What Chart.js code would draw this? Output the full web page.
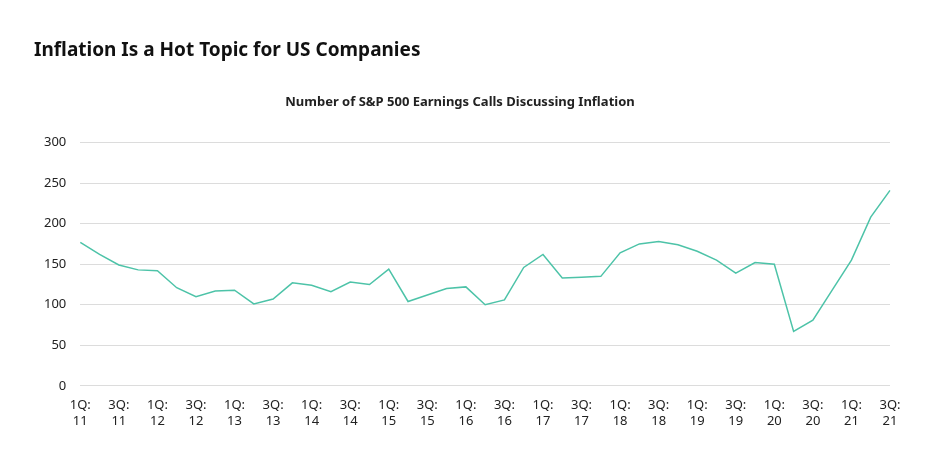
<!DOCTYPE html>
<html>
<head>
<meta charset="utf-8">
<script src="https://cdn.jsdelivr.net/npm/chart.js@4"></script>
<style>
  body { margin: 0; background: #fff; font-family: "Noto Sans", sans-serif; }
  #wrap { position: relative; width: 936px; height: 452px; }
  h1 { position: absolute; left: 34px; top: 36px; margin: 0; font-size: 19px; font-weight: bold; color: #111; }
  #box { position: absolute; left: 0; top: 0; width: 936px; height: 452px; }
</style>
</head>
<body>
<div id="wrap">
  <div id="box"><canvas id="c"></canvas></div>
  <h1>Inflation Is a Hot Topic for US Companies</h1>
</div>
<script>
const quarters = [];
for (let y = 11; y <= 21; y++) {
  for (let q = 1; q <= 4; q++) {
    if (y === 21 && q > 3) break;
    quarters.push(q + 'Q:' + y);
  }
}
const calls = [177, 162, 149, 143, 142, 121, 110, 117, 118, 101, 107, 127, 124, 116, 128, 125,
  144, 104, 112, 120, 122, 100, 106, 146, 162, 133, 134, 135, 164, 175, 178, 174,
  166, 155, 139, 152, 150, 67, 81, 118, 155, 208, 241];
const yTicks = [0, 50, 100, 150, 200, 250, 300];

new Chart(document.getElementById('c'), {
  type: 'line',
  data: {
    labels: quarters,
    datasets: [{
      data: calls,
      borderColor: '#4dc3a8',
      borderWidth: 1.5,
      pointRadius: 0,
      tension: 0,
      fill: false
    }]
  },
  options: {
    responsive: true,
    maintainAspectRatio: false,
    animation: false,
    layout: { padding: { left: 30, right: 46, top: 94, bottom: 19 } },
    plugins: {
      legend: { display: false },
      tooltip: { enabled: false },
      title: {
        display: true,
        text: 'Number of S&P 500 Earnings Calls Discussing Inflation',
        color: '#222',
        font: { family: 'Noto Sans', size: 13, weight: 'bold' },
        padding: { top: 0, bottom: 33 }
      }
    },
    scales: {
      x: {
        grid: { display: false },
        border: { display: false },
        ticks: {
          autoSkip: false,
          maxRotation: 0,
          color: '#222',
          font: { family: 'Noto Sans', size: 13 },
          padding: 4,
          callback: function (v, i) {
            if (i % 2) return null;
            const p = quarters[i].split(':');
            return [p[0] + ':', p[1]];
          }
        }
      },
      y: {
        min: 0, max: 300,
        afterBuildTicks: ax => { ax.ticks = yTicks.map(v => ({ value: v })); },
        grid: { color: '#dcdcdc', drawTicks: false },
        border: { display: false },
        ticks: { color: '#222', font: { family: 'Noto Sans', size: 13 }, padding: 14 }
      }
    }
  }
});
</script>
</body>
</html>
